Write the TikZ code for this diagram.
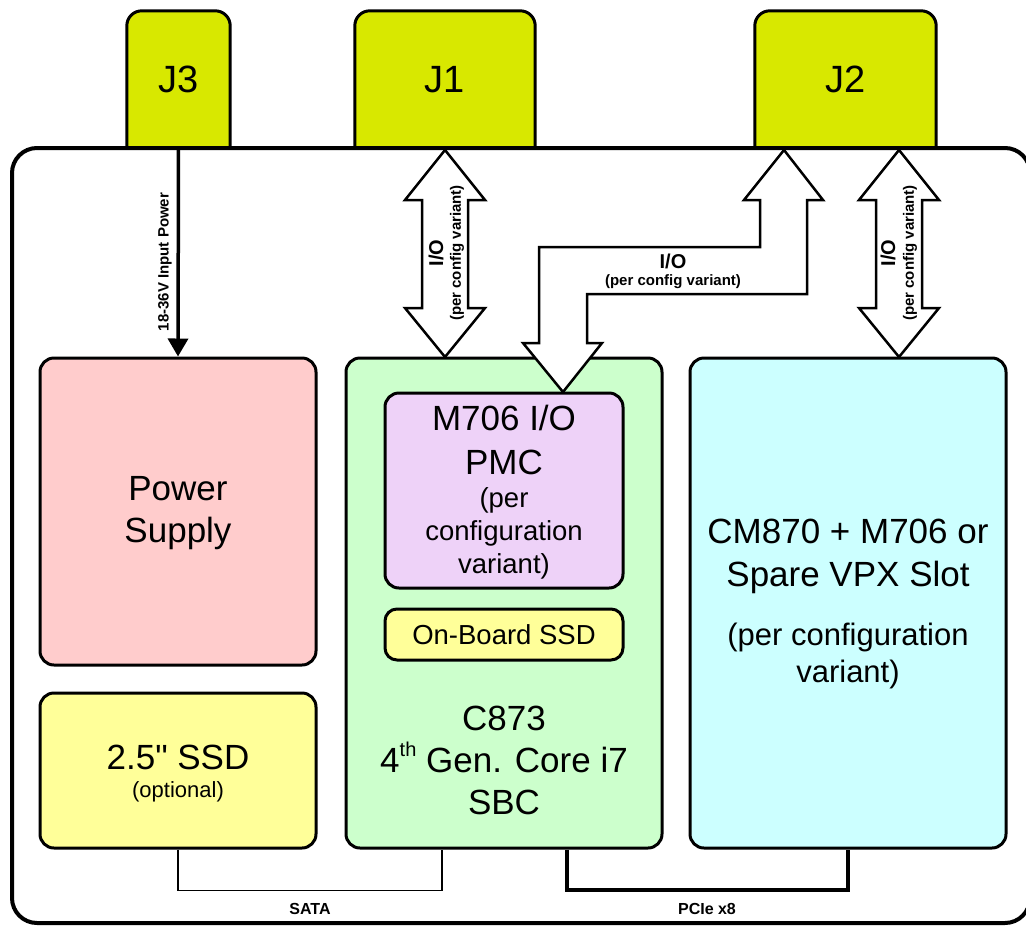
\documentclass[tikz,border=0pt]{standalone}
\usepackage{fontspec}
\setmainfont{Liberation Sans}
\newfontfamily\plainfont{Liberation Sans}
\usetikzlibrary{arrows.meta,calc}
\definecolor{jcol}{RGB}{216,232,0}
\definecolor{pscol}{RGB}{255,204,204}
\definecolor{ssdcol}{RGB}{255,255,153}
\definecolor{sbccol}{RGB}{204,255,204}
\definecolor{cmcol}{RGB}{204,255,255}
\definecolor{pmccol}{RGB}{238,210,248}
\newcommand{\fs}[2]{\fontsize{#1}{#2}\selectfont}
\begin{document}
\begin{tikzpicture}[x=1pt,y=-1pt,
  box/.style={draw, line width=3pt, rounded corners=14pt, inner sep=0pt},
  jlab/.style={inner sep=0pt, font=\fs{38}{44}},
  jshape/.style={draw, line width=3pt, rounded corners=15pt, fill=jcol},
  txt/.style={inner sep=0pt, align=center},
  bigarrow/.style={draw, line width=2.5pt, fill=white, line join=miter},
  lbl/.style={inner sep=0pt, font=\bfseries\fs{15}{18}},
  iolbl/.style={inner sep=0pt, font=\bfseries\fs{20}{22}},
  conn/.style={draw, line width=1.5pt},
  connthick/.style={draw, line width=4pt, line join=miter}]
\useasboundingbox (0,0) rectangle (1026,927);
\fill[white] (0,0) rectangle (1026,927);

% connectors J3, J1, J2
\node[jlab, minimum width=103pt, minimum height=137pt] (J3) at (178.5,79.5) {};
\node[jlab, minimum width=180pt, minimum height=137pt] (J1) at (445,79.5) {};
\node[jlab, minimum width=181pt, minimum height=137pt] (J2) at (845.5,79.5) {};
\foreach \j in {J3,J1,J2}{
  \draw[jshape] (\j.south west) -- (\j.north west) -- (\j.north east) -- (\j.south east);
  \node[jlab] (\j t) at (\j.center) {\j};
}

% outer frame
\draw[line width=4pt, rounded corners=25pt] (12,148) rectangle (1030,923);

% boxes
\node[box, fill=pscol, minimum width=276pt, minimum height=307pt] (ps) at (178,511.5) {};
\node[box, fill=ssdcol, minimum width=276pt, minimum height=155pt] (ssd) at (178,770.5) {};
\node[box, fill=sbccol, minimum width=316pt, minimum height=490pt] (sbc) at (504,603) {};
\node[box, fill=cmcol, minimum width=316pt, minimum height=490pt] (cm) at (848,603) {};
\node[box, fill=pmccol, minimum width=238pt, minimum height=195pt] (pmc) at (504,490.5) {};
\node[box, fill=ssdcol, minimum width=238pt, minimum height=51pt, rounded corners=12pt] (obssd) at (504,634.5) {};

% texts
\node[txt, font=\fs{35}{42}] (pst) at (178,513) {Power\\Supply};
\node[txt, font=\plainfont\fs{35}{40}] (ssdt) at (178,757) {2.5" SSD};
\node[txt, font=\fs{22}{26}] (ssdo) at (178,792) {(optional)};
\node[txt, font=\fs{35}{44}] (pmct) at (504,440) {M706 I/O\\PMC};
\node[txt, font=\fs{27.5}{33}] (pmco) at (504,533) {(per\\configuration\\variant)};
\node[txt, font=\fs{27.5}{32}] (obssdt) at (504,634.5) {On-Board SSD};
\node[txt, font=\fs{35}{42}] (sbct) at (504,760) {C873\\4\raisebox{0.45em}{\fs{20}{20}th} Gen. Core i7\\SBC};
\node[txt, font=\fs{35}{43}] (cmt) at (848,556) {CM870 + M706 or\\Spare VPX Slot};
\node[txt, font=\fs{31}{37}] (cmo) at (848,656) {(per configuration\\variant)};

% power arrow
\draw[line width=3.5pt, -{Triangle[length=18pt, width=20pt]}] (J3.south) -- (ps.north);
\node[lbl, rotate=90] (pwrl) at (165,262) {18-36V Input Power};

% J1 double arrow
\draw[bigarrow] (445,150) -- (485,200) -- (468,200) -- (468,308) -- (485,308) -- (445,357)
  -- (405,308) -- (422,308) -- (422,200) -- (405,200) -- cycle;
\node[iolbl, rotate=90] (io1) at (436,253) {I/O};
\node[lbl, rotate=90] (io1b) at (457,253) {(per config variant)};

% J2 double arrow
\draw[bigarrow] (899,150) -- (939,200) -- (922,200) -- (922,308) -- (939,308) -- (899,357)
  -- (859,308) -- (876,308) -- (876,200) -- (859,200) -- cycle;
\node[iolbl, rotate=90] (io2) at (888,253) {I/O};
\node[lbl, rotate=90] (io2b) at (910,253) {(per config variant)};

% bent arrow J2 -> PMC
\draw[bigarrow] (784,150) -- (823,200) -- (807,200) -- (807,294) -- (587,294) -- (587,343)
  -- (602,343) -- (563,392) -- (523,343) -- (539,343) -- (539,247) -- (760,247)
  -- (760,200) -- (744,200) -- cycle;
\node[iolbl] (io3) at (673,261) {I/O};
\node[lbl] (io3b) at (673,282) {(per config variant)};

% SATA
\draw[conn] (ssd.south) |- ($(sbc.south)+(-62,41)$) -- ($(sbc.south)+(-62,0)$);
\node[lbl, font=\bfseries\fs{16}{18}] (sata) at (310,909) {SATA};

% PCIe
\draw[connthick] ($(sbc.south)+(63,0)$) -- ($(sbc.south)+(63,40)$) -| (cm.south);
\node[lbl, font=\bfseries\fs{16}{18}] (pcie) at (707,909) {PCIe x8};
\end{tikzpicture}
\end{document}
